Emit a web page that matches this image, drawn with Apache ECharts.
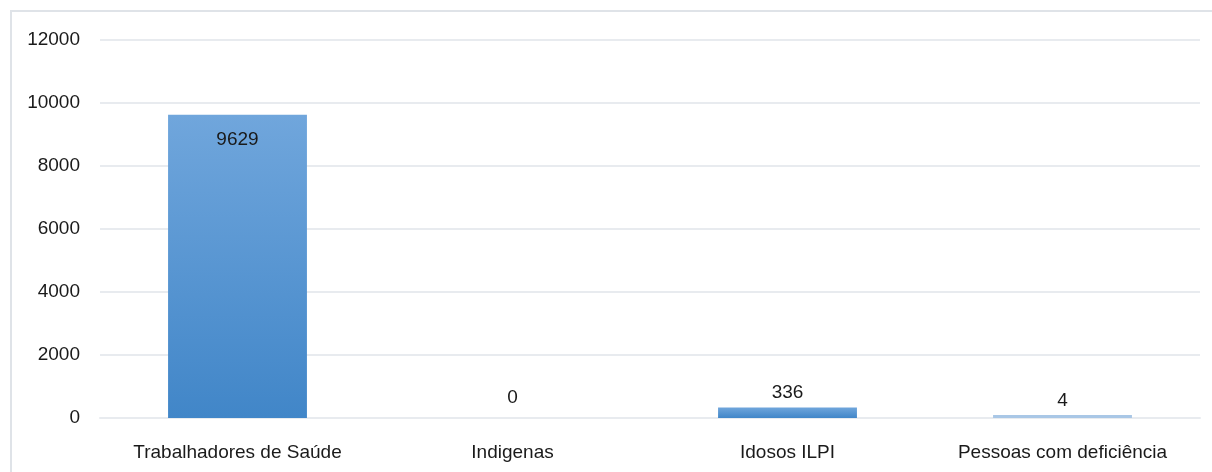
<!DOCTYPE html>
<html>
<head>
<meta charset="utf-8">
<script src="https://cdn.jsdelivr.net/npm/echarts@6/dist/echarts.min.js"></script>
<style>
html,body{margin:0;padding:0;background:#fff;}
#chart{width:1212px;height:472px;}
</style>
</head>
<body>
<div id="chart"></div>
<script>
const categories = ['Trabalhadores de Saúde', 'Indigenas', 'Idosos ILPI', 'Pessoas com deficiência'];
const values = [9629, 0, 336, 4];
const yTicks = [0, 2000, 4000, 6000, 8000, 10000, 12000];

const FONT = "'Liberation Sans Narrow', 'Arial Narrow', 'Liberation Sans', Arial, sans-serif";
const chart = echarts.init(document.getElementById('chart'));

const barGradient = new echarts.graphic.LinearGradient(0, 0, 0, 1, [
  { offset: 0, color: '#70a6dc' },
  { offset: 1, color: '#4186c8' }
]);

chart.setOption({
  animation: false,
  backgroundColor: '#ffffff',
  graphic: [{
    type: 'rect',
    shape: { x: 11, y: 11, width: 1300, height: 500 },
    style: { fill: 'none', stroke: '#dfe3e8', lineWidth: 2 },
    silent: true
  }],
  grid: { left: 100, right: 12, top: 40, bottom: 54, containLabel: false },
  xAxis: {
    type: 'category',
    data: categories,
    axisLine: { show: true, lineStyle: { color: '#e8ebef', width: 2 } },
    axisTick: { show: false },
    axisLabel: { color: '#1a1a1a', fontFamily: FONT, fontSize: 19, margin: 25 }
  },
  yAxis: {
    type: 'value',
    min: yTicks[0],
    max: yTicks[yTicks.length - 1],
    interval: 2000,
    axisLine: { show: false },
    axisTick: { show: false },
    splitLine: { lineStyle: { color: '#e8ebef', width: 2 } },
    axisLabel: {
      color: '#1a1a1a', fontFamily: FONT, fontSize: 19, margin: 20,
      formatter: v => String(v)
    }
  },
  series: [{
    type: 'bar',
    barWidth: '50.5%',
    barMinHeight: 3,
    data: values.map((v, i) => {
      if (i === 0) {
        return { value: v, label: { position: 'insideTop', distance: 16 } };
      }
      if (v === 0) {
        return { value: v, itemStyle: { color: 'rgba(0,0,0,0)' }, label: { distance: 8 } };
      }
      if (i === 3) {
        return { value: v, itemStyle: { color: '#a9c7e6' } };
      }
      return v;
    }),
    itemStyle: { color: barGradient },
    label: {
      show: true,
      position: 'top',
      distance: 5,
      color: '#1a1a1a',
      fontFamily: FONT,
      fontSize: 19
    }
  }]
});
</script>
</body>
</html>
